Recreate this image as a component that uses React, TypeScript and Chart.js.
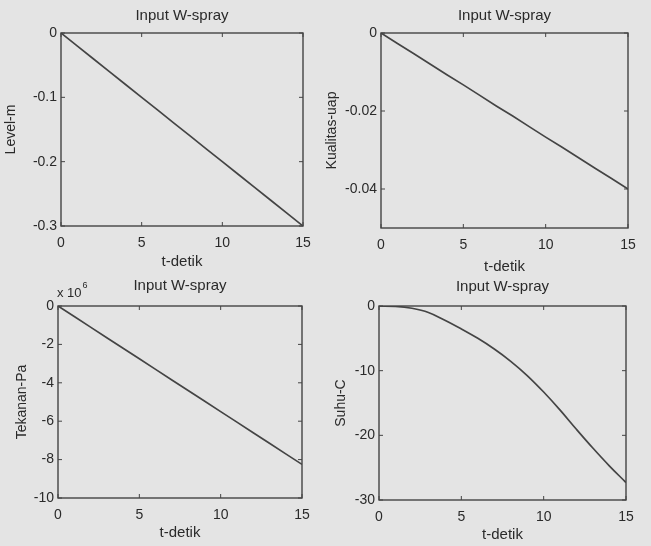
import React, { useEffect, useRef } from "react";
import { Chart, registerables } from "chart.js";

Chart.register(...registerables);

// ---- data ----
const tDetik = [0, 1, 2, 3, 4, 5, 6, 7, 8, 9, 10, 11, 12, 13, 14, 15];
const levelM = [0, -0.02, -0.04, -0.06, -0.08, -0.1, -0.12, -0.14, -0.16, -0.18, -0.2, -0.22, -0.24, -0.26, -0.28, -0.3];
const kualitasUap = [0, -0.0027, -0.0053, -0.008, -0.0107, -0.0133, -0.016, -0.0187, -0.0213, -0.024, -0.0267, -0.0293, -0.032, -0.0347, -0.0373, -0.04];
// in units of 10^6 Pa
const tekananPa = [0, -0.55, -1.1, -1.65, -2.2, -2.75, -3.3, -3.85, -4.4, -4.95, -5.5, -6.05, -6.6, -7.15, -7.7, -8.25];
const suhuC = [0, -0.05, -0.35, -1.0, -2.2, -3.55, -5.0, -6.65, -8.55, -10.75, -13.3, -16.1, -19.1, -22.0, -24.75, -27.3];

const xTickValues = [0, 5, 10, 15];
const xTickLabels = ["0", "5", "10", "15"];
const levelTickValues = [0, -0.1, -0.2, -0.3];
const levelTickLabels = ["0", "-0.1", "-0.2", "-0.3"];
const kualitasTickValues = [0, -0.02, -0.04];
const kualitasTickLabels = ["0", "-0.02", "-0.04"];
const tekananTickValues = [0, -2, -4, -6, -8, -10];
const tekananTickLabels = ["0", "-2", "-4", "-6", "-8", "-10"];
const suhuTickValues = [0, -10, -20, -30];
const suhuTickLabels = ["0", "-10", "-20", "-30"];

const plotTitle = "Input W-spray";
const xAxisLabel = "t-detik";
const yAxisLabels = ["Level-m", "Kualitas-uap", "Tekanan-Pa", "Suhu-C"];
const yMins = [-0.3, -0.05, -10, -30];
const yMaxs = [0, 0, 0, 0];
const exponentLabel = "x 10";
const exponentPower = "6";

// ---- layout / style ----
const FONT = "'Liberation Sans', Arial, Helvetica, sans-serif";
const TEXT = "#2a2a2a";
const INK = "#444444";
const TICK_SIZE = 14;
const TITLE_SIZE = 15;
const XLABEL_SIZE = 15;
const YLABEL_SIZE = 14;

type Spec = {
  area: { l: number; t: number; r: number; b: number };
  canvas: { l: number; t: number; w: number; h: number };
  titleY: number;
  yTitleX: number;
  xTickY: number;
  xTitleY: number;
};

const specs: Spec[] = [
  { area: { l: 61, t: 33, r: 303, b: 226 }, canvas: { l: 0, t: 0, w: 325, h: 276 }, titleY: 16, yTitleX: 11, xTickY: 243, xTitleY: 262 },
  { area: { l: 381, t: 33, r: 628, b: 228 }, canvas: { l: 320, t: 0, w: 330, h: 278 }, titleY: 16, yTitleX: 332, xTickY: 245, xTitleY: 267 },
  { area: { l: 58, t: 306, r: 302, b: 498 }, canvas: { l: 0, t: 273, w: 325, h: 275 }, titleY: 286, yTitleX: 22, xTickY: 515, xTitleY: 533 },
  { area: { l: 379, t: 306, r: 626, b: 500 }, canvas: { l: 318, t: 273, w: 330, h: 275 }, titleY: 287, yTitleX: 341, xTickY: 517, xTitleY: 535 },
];

const seriesList = [levelM, kualitasUap, tekananPa, suhuC];
const yTickValueList = [levelTickValues, kualitasTickValues, tekananTickValues, suhuTickValues];
const yTickLabelList = [levelTickLabels, kualitasTickLabels, tekananTickLabels, suhuTickLabels];

const framePlugin = {
  id: "matlabFrame",
  afterDraw(chart: any, _args: any, opts: any) {
    const { ctx, chartArea: a, scales } = chart;
    ctx.save();
    ctx.strokeStyle = INK;
    ctx.lineWidth = 1.4;
    ctx.strokeRect(a.left, a.top, a.right - a.left, a.bottom - a.top);
    const L = 4;
    ctx.lineWidth = 1;
    ctx.beginPath();
    for (const tk of scales.x.ticks) {
      const px = scales.x.getPixelForValue(tk.value);
      ctx.moveTo(px, a.bottom);
      ctx.lineTo(px, a.bottom - L);
      ctx.moveTo(px, a.top);
      ctx.lineTo(px, a.top + L);
    }
    for (const tk of scales.y.ticks) {
      const py = scales.y.getPixelForValue(tk.value);
      ctx.moveTo(a.left, py);
      ctx.lineTo(a.left + L, py);
      ctx.moveTo(a.right, py);
      ctx.lineTo(a.right - L, py);
    }
    ctx.stroke();

    ctx.fillStyle = TEXT;
    ctx.font = `${TITLE_SIZE}px ${FONT}`;
    ctx.textAlign = "center";
    ctx.textBaseline = "middle";
    ctx.fillText(opts.title, (a.left + a.right) / 2, opts.titleY);

    if (opts.exponent) {
      ctx.textAlign = "left";
      ctx.font = `13px ${FONT}`;
      const x0 = a.left - 1;
      ctx.fillText(exponentLabel, x0, a.top - 13);
      const w = ctx.measureText(exponentLabel).width;
      ctx.font = `9px ${FONT}`;
      ctx.fillText(exponentPower, x0 + w + 1, a.top - 20);
    }
    ctx.restore();
  },
};

export default function App() {
  const refs = useRef<(HTMLCanvasElement | null)[]>([]);

  useEffect(() => {
    const charts: Chart[] = [];
    specs.forEach((s, i) => {
      const canvas = refs.current[i];
      if (!canvas) return;
      const a = s.area;
      const c = s.canvas;
      const tickHalf = (TICK_SIZE * 1.2) / 2;
      const yVals = yTickValueList[i];
      const yLabs = yTickLabelList[i];
      const series = seriesList[i];
      const chart = new Chart(canvas, {
        type: "line",
        data: {
          datasets: [
            {
              data: tDetik.map((t, k) => ({ x: t, y: series[k] })),
              borderColor: INK,
              borderWidth: 1.7,
              pointRadius: 0,
              fill: false,
              tension: i === 3 ? 0.4 : 0,
            } as any,
          ],
        },
        options: {
          responsive: false,
          animation: false,
          events: [],
          layout: { padding: { left: 0, top: a.t - c.t, right: c.l + c.w - a.r, bottom: 0 } },
          plugins: {
            legend: { display: false },
            tooltip: { enabled: false },
            title: { display: false },
            matlabFrame: { title: plotTitle, titleY: s.titleY - c.t, exponent: i === 2 },
          } as any,
          scales: {
            x: {
              type: "linear",
              min: 0,
              max: 15,
              afterBuildTicks: (sc: any) => {
                sc.ticks = xTickValues.map((v) => ({ value: v }));
              },
              afterFit: (sc: any) => {
                sc.height = c.t + c.h - a.b;
              },
              ticks: {
                callback: (_v: any, k: number) => xTickLabels[k],
                padding: s.xTickY - a.b - tickHalf,
                font: { family: FONT, size: TICK_SIZE, lineHeight: 1.2 },
                color: TEXT,
                maxRotation: 0,
                autoSkip: false,
              },
              grid: { display: false, drawTicks: false },
              border: { display: false },
              title: {
                display: true,
                text: xAxisLabel,
                color: TEXT,
                font: { family: FONT, size: XLABEL_SIZE, lineHeight: 1.2 },
                padding: { top: 0, bottom: c.t + c.h - s.xTitleY - (XLABEL_SIZE * 1.2) / 2 },
              },
            },
            y: {
              type: "linear",
              position: "left",
              min: yMins[i],
              max: yMaxs[i],
              afterBuildTicks: (sc: any) => {
                sc.ticks = yVals.map((v) => ({ value: v }));
              },
              afterFit: (sc: any) => {
                sc.width = a.l - c.l;
              },
              ticks: {
                callback: (_v: any, k: number) => yLabs[k],
                padding: 4,
                font: { family: FONT, size: TICK_SIZE, lineHeight: 1.2 },
                color: TEXT,
                autoSkip: false,
              },
              grid: { display: false, drawTicks: false },
              border: { display: false },
              title: {
                display: true,
                text: yAxisLabels[i],
                color: TEXT,
                font: { family: FONT, size: YLABEL_SIZE, lineHeight: 1.2 },
                padding: { top: s.yTitleX - c.l - (YLABEL_SIZE * 1.2) / 2, bottom: 0 },
              },
            },
          },
        } as any,
        plugins: [framePlugin as any],
      });
      charts.push(chart);
    });
    return () => charts.forEach((ch) => ch.destroy());
  }, []);

  return (
    <div
      style={{
        position: "fixed",
        left: 0,
        top: 0,
        width: 651,
        height: 546,
        background: "#e4e4e4",
        overflow: "hidden",
      }}
    >
      {specs.map((s, i) => (
        <canvas
          key={i}
          ref={(el) => {
            refs.current[i] = el;
          }}
          width={s.canvas.w}
          height={s.canvas.h}
          style={{
            position: "absolute",
            left: s.canvas.l,
            top: s.canvas.t,
            width: s.canvas.w,
            height: s.canvas.h,
          }}
        />
      ))}
    </div>
  );
}
